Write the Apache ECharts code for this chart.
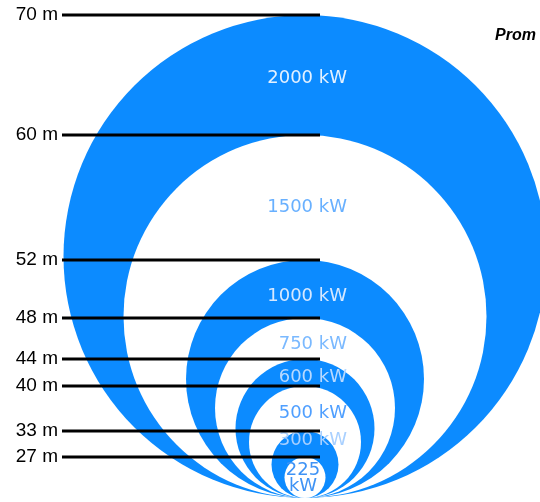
<!DOCTYPE html>
<html>
<head>
<meta charset="utf-8">
<script src="https://cdn.jsdelivr.net/npm/echarts@6/dist/echarts.min.js"></script>
<style>
html,body{margin:0;padding:0;background:#fff;}
#chart{width:540px;height:502px;}
</style>
</head>
<body>
<div id="chart"></div>
<script>
// Turbine classes, rotor diameters and the drawn circle heights
const powerLabels = ['2000 kW', '1500 kW', '1000 kW', '750 kW', '600 kW', '500 kW', '300 kW', '225\nkW'];
const rotorLabels = ['70 m', '60 m', '52 m', '48 m', '44 m', '40 m', '33 m', '27 m'];
const circleHeights = [483, 363, 238, 180, 139, 112, 67, 41];

const BLUE = '#0c8bff';
const labelColors = ['#e4f1ff', '#68b0ff', '#d6e8ff', '#7ab9ff', '#b8d9ff', '#4f9fff', '#a9d0ff', '#3f93f5'];
const labelShiftY = [3, 10, 7, 6, 5, 5, -4, 1];

const chart = echarts.init(document.getElementById('chart'));

const circleData = circleHeights.map((h, i) => [i, h]);

chart.setOption({
  animation: false,
  grid: { left: 0, right: 0, top: 15, bottom: 4 },
  xAxis: { type: 'value', min: -305, max: 235, show: false },
  yAxis: { type: 'value', min: 0, max: 483, show: false },
  graphic: [{
    type: 'text', left: 495, top: 28, z: 10,
    style: { text: 'Prom', font: 'italic bold 16px "Liberation Sans", Arial, sans-serif', fill: '#000' }
  }],
  series: [
    {
      type: 'custom',
      z: 1,
      data: circleData,
      renderItem: function (params, api) {
        const i = api.value(0);
        const h = api.value(1);
        const c = api.coord([0, h / 2]);
        const r = api.size([0, h])[1] / 2;
        return {
          type: 'circle',
          shape: { cx: c[0], cy: c[1], r: r },
          style: { fill: i % 2 === 0 ? BLUE : '#ffffff' }
        };
      }
    },
    {
      type: 'custom',
      z: 2,
      data: circleData,
      renderItem: function (params, api) {
        const i = api.value(0);
        const h = api.value(1);
        const isLast = i === circleHeights.length - 1;
        const next = isLast ? 0 : circleHeights[i + 1];
        const mid = (h + next) / 2;
        const p = api.coord([isLast ? -2 : 42, mid]);
        return {
          type: 'text',
          x: p[0],
          y: p[1] + labelShiftY[i],
          style: {
            text: powerLabels[i],
            font: '18px "DejaVu Sans", Verdana, sans-serif',
            fill: labelColors[i],
            align: isLast ? 'center' : 'right',
            verticalAlign: 'middle',
            lineHeight: 16
          }
        };
      }
    },
    {
      type: 'custom',
      z: 3,
      data: circleData,
      renderItem: function (params, api) {
        const i = api.value(0);
        const h = api.value(1);
        const a = api.coord([-243, h]);
        const b = api.coord([15, h]);
        return {
          type: 'group',
          children: [
            {
              type: 'line',
              shape: { x1: a[0], y1: a[1], x2: b[0], y2: b[1] },
              style: { stroke: '#000', lineWidth: 3 }
            },
            {
              type: 'text',
              x: a[0] - 4,
              y: a[1],
              style: {
                text: rotorLabels[i],
                font: '19px "Liberation Sans", Arial, sans-serif',
                fill: '#000',
                align: 'right',
                verticalAlign: 'middle'
              }
            }
          ]
        };
      }
    }
  ]
});
</script>
</body>
</html>
